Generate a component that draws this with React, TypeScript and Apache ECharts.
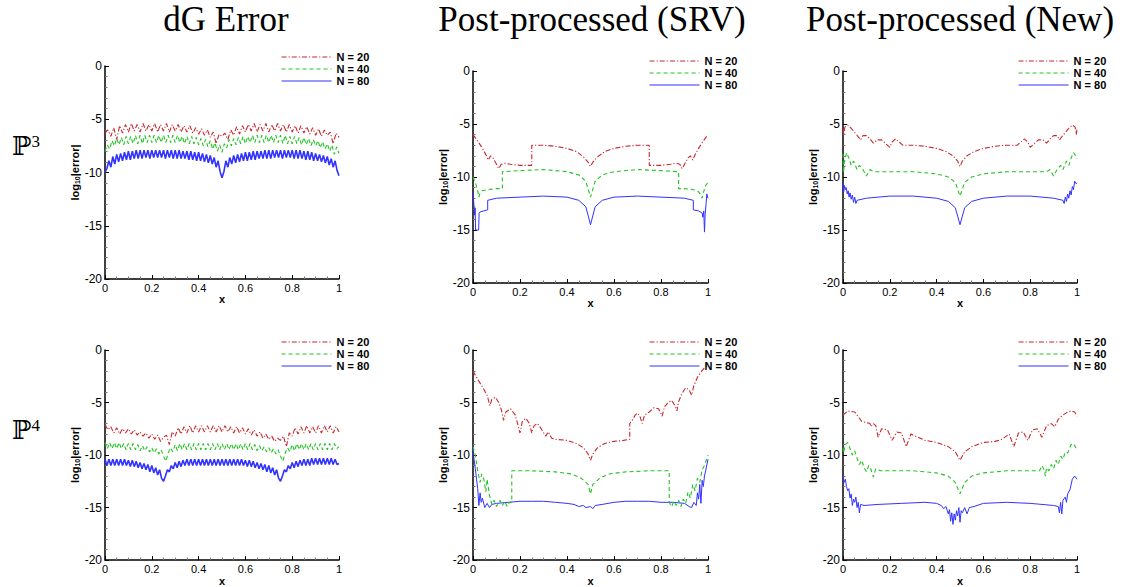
import React, { useEffect, useRef } from 'react';
import * as echarts from 'echarts';

// ---------- labels ----------
const panelTitles = ['dG Error', 'Post-processed (SRV)', 'Post-processed (New)'];
const rowLabels = ['3', '4'];
const seriesNames = ['N = 20', 'N = 40', 'N = 80'];

// ---------- dG error (uniformly sampled on [0,1]) ----------
const dgP3_N20 = [
  -6.3, -6.0, -6.6, -5.8, -6.9, -5.6, -6.3, -5.5, -6.2, -5.4,
  -6.1, -5.5, -6.2, -5.4, -6.1, -5.5, -6.1, -5.4, -6.2, -5.5,
  -6.1, -5.4, -6.2, -5.5, -6.1, -5.5, -6.2, -5.6, -6.2, -5.6,
  -6.3, -5.8, -6.4, -5.9, -6.5, -6.0, -6.7, -6.2, -7.3, -6.4,
  -6.6, -6.3, -6.9, -6.0, -6.5, -5.7, -6.4, -5.6, -6.2, -5.5,
  -6.1, -5.4, -6.2, -5.5, -6.1, -5.4, -6.2, -5.5, -6.1, -5.4,
  -6.1, -5.5, -6.2, -5.5, -6.2, -5.6, -6.3, -5.6, -6.3, -5.7,
  -6.4, -5.8, -6.5, -5.9, -6.6, -6.0, -6.5, -6.2, -7.3, -6.3,
  -6.7,
];
const dgP3_N40 = [
  -8.0, -7.4, -7.8, -7.0, -7.5, -6.8, -7.4, -6.7, -7.4, -6.6,
  -7.3, -6.6, -7.3, -6.5, -7.3, -6.5, -7.3, -6.5, -7.2, -6.5,
  -7.2, -6.5, -7.2, -6.5, -7.2, -6.5, -7.2, -6.5, -7.2, -6.5,
  -7.2, -6.5, -7.2, -6.6, -7.3, -6.6, -7.3, -6.6, -7.3, -6.7,
  -7.4, -6.8, -7.5, -6.9, -7.6, -7.0, -7.8, -7.2, -8.0, -7.4,
  -8.1, -7.3, -7.7, -6.9, -7.5, -6.8, -7.4, -6.7, -7.3, -6.6,
  -7.3, -6.6, -7.2, -6.5, -7.2, -6.5, -7.2, -6.5, -7.2, -6.5,
  -7.2, -6.5, -7.2, -6.5, -7.2, -6.5, -7.3, -6.5, -7.3, -6.6,
  -7.3, -6.6, -7.3, -6.7, -7.4, -6.7, -7.4, -6.8, -7.5, -6.9,
  -7.5, -7.0, -7.7, -7.1, -7.8, -7.3, -8.0, -7.4, -8.3, -7.6,
  -8.2,
];
const dgP3_N80 = [
  -10.0, -9.6, -8.9, -9.5, -8.5, -9.2, -8.3, -9.0, -8.2, -8.9,
  -8.1, -8.8, -8.0, -8.8, -8.0, -8.7, -7.9, -8.7, -7.9, -8.7,
  -7.9, -8.6, -7.9, -8.7, -7.9, -8.6, -7.9, -8.6, -7.9, -8.6,
  -7.9, -8.7, -7.9, -8.6, -7.9, -8.7, -7.9, -8.7, -7.9, -8.7,
  -8.0, -8.7, -8.0, -8.8, -8.0, -8.8, -8.1, -8.9, -8.1, -8.9,
  -8.2, -9.0, -8.3, -9.1, -8.4, -9.2, -8.6, -9.5, -8.9, -9.9,
  -10.5, -9.9, -8.9, -9.5, -8.6, -9.2, -8.4, -9.1, -8.3, -9.0,
  -8.2, -8.9, -8.1, -8.9, -8.1, -8.8, -8.0, -8.8, -8.0, -8.7,
  -8.0, -8.7, -7.9, -8.7, -7.9, -8.7, -7.9, -8.6, -7.9, -8.6,
  -7.9, -8.7, -7.9, -8.6, -7.9, -8.6, -7.9, -8.7, -7.9, -8.7,
  -7.9, -8.7, -8.0, -8.8, -8.0, -8.8, -8.1, -8.9, -8.2, -8.9,
  -8.3, -9.0, -8.4, -9.1, -8.5, -9.3, -8.7, -9.5, -8.9, -9.8,
  -10.3,
];
const dgP4_N20 = [
  -7.1, -7.6, -7.3, -7.9, -7.4, -8.0, -7.5, -7.9, -7.5, -8.0,
  -7.6, -8.1, -7.8, -8.2, -7.9, -8.4, -8.0, -8.5, -8.1, -8.7,
  -8.3, -8.1, -9.0, -7.8, -8.2, -7.4, -8.0, -7.3, -7.9, -7.2,
  -7.9, -7.2, -7.8, -7.2, -7.8, -7.2, -7.8, -7.2, -7.8, -7.2,
  -7.8, -7.2, -7.8, -7.3, -7.9, -7.3, -7.9, -7.4, -8.0, -7.5,
  -8.1, -7.6, -8.2, -7.8, -8.4, -8.0, -8.5, -8.2, -8.7, -8.4,
  -8.6, -8.2, -9.2, -7.9, -8.2, -7.4, -8.0, -7.3, -7.9, -7.2,
  -7.9, -7.3, -7.9, -7.2, -7.9, -7.2, -7.8, -7.2, -7.9, -7.3,
  -7.8,
];
const dgP4_N40 = [
  -8.8, -9.4, -8.8, -9.4, -8.8, -9.4, -8.8, -9.4, -8.9, -9.5,
  -8.9, -9.5, -8.9, -9.5, -9.0, -9.6, -9.1, -9.6, -9.2, -9.7,
  -9.3, -9.8, -9.4, -9.9, -9.5, -10.1, -10.6, -9.8, -9.3, -9.7,
  -9.0, -9.6, -8.9, -9.5, -8.9, -9.5, -8.9, -9.5, -8.9, -9.5,
  -8.9, -9.5, -8.9, -9.5, -8.9, -9.5, -8.9, -9.5, -8.9, -9.5,
  -8.9, -9.5, -8.9, -9.5, -8.9, -9.5, -8.9, -9.5, -8.9, -9.5,
  -8.9, -9.5, -8.9, -9.5, -9.0, -9.6, -9.1, -9.6, -9.2, -9.7,
  -9.3, -9.8, -9.4, -9.9, -9.5, -10.1, -10.6, -9.8, -9.3, -9.7,
  -9.0, -9.6, -8.9, -9.5, -8.9, -9.5, -8.9, -9.5, -8.9, -9.5,
  -8.9, -9.5, -8.9, -9.5, -8.9, -9.5, -8.9, -9.5, -8.9, -9.4,
  -9.2,
];
const dgP4_N80 = [
  -10.4, -11.0, -10.4, -11.0, -10.4, -11.0, -10.4, -11.0, -10.4, -11.0,
  -10.4, -11.0, -10.5, -11.1, -10.5, -11.1, -10.6, -11.2, -10.7, -11.3,
  -10.8, -11.4, -10.9, -11.6, -11.0, -11.7, -11.2, -11.9, -11.4, -12.2,
  -12.5, -12.0, -11.4, -11.6, -11.0, -11.3, -10.7, -11.2, -10.6, -11.1,
  -10.5, -11.0, -10.4, -11.0, -10.4, -11.0, -10.4, -11.0, -10.4, -11.0,
  -10.4, -11.0, -10.4, -11.0, -10.4, -11.0, -10.4, -11.0, -10.4, -11.0,
  -10.4, -11.0, -10.4, -11.0, -10.4, -11.0, -10.4, -11.0, -10.4, -11.0,
  -10.4, -11.0, -10.5, -11.1, -10.5, -11.1, -10.6, -11.2, -10.7, -11.3,
  -10.8, -11.4, -10.9, -11.6, -11.0, -11.7, -11.2, -11.9, -11.4, -12.2,
  -12.5, -12.0, -11.4, -11.6, -11.0, -11.3, -10.7, -11.2, -10.6, -11.1,
  -10.5, -11.0, -10.4, -11.0, -10.4, -11.0, -10.3, -10.9, -10.3, -10.9,
  -10.3, -10.9, -10.3, -10.9, -10.3, -10.9, -10.3, -10.9, -10.4, -10.9,
  -10.8,
];

// ---------- post-processed (x, log10 error) ----------
const srvP3_N20 = [
  [0, -6.0], [0.02, -6.6], [0.04, -7.3], [0.055, -7.9], [0.065, -8.4], [0.075, -8.0], [0.085, -8.2],
  [0.1, -8.8], [0.11, -9.2], [0.12, -8.8], [0.135, -8.7], [0.16, -8.8], [0.2, -8.9], [0.25, -8.9],
  [0.25, -7.0], [0.3, -7.0], [0.35, -7.1], [0.4, -7.3], [0.44, -7.6], [0.47, -8.1], [0.49, -8.6],
  [0.5, -9.0], [0.51, -8.6], [0.53, -8.1], [0.56, -7.6], [0.6, -7.3], [0.65, -7.1], [0.7, -7.0],
  [0.75, -7.0], [0.75, -8.9], [0.8, -8.9], [0.84, -8.8], [0.865, -8.7], [0.88, -8.8], [0.89, -9.2],
  [0.9, -8.8], [0.915, -8.2], [0.925, -8.0], [0.935, -8.4], [0.945, -7.9], [0.96, -7.3], [0.98, -6.6],
  [1, -6.0],
];
const srvP3_N40 = [
  [0, -10.0], [0.01, -10.5], [0.02, -11.3], [0.025, -11.9], [0.03, -11.5], [0.04, -11.3], [0.06, -11.2],
  [0.1, -11.1], [0.125, -11.1], [0.125, -9.5], [0.2, -9.4], [0.3, -9.3], [0.4, -9.5], [0.45, -9.8],
  [0.48, -10.4], [0.5, -11.9], [0.52, -10.4], [0.55, -9.8], [0.6, -9.5], [0.7, -9.3], [0.8, -9.4],
  [0.875, -9.5], [0.875, -11.1], [0.9, -11.1], [0.94, -11.2], [0.96, -11.4], [0.97, -11.7],
  [0.975, -12.0], [0.98, -11.5], [0.99, -10.8], [1, -10.5],
];
const srvP3_N80 = [
  [0, -11.5], [0.004, -12.6], [0.007, -13.6], [0.009, -12.9], [0.011, -15.0], [0.024, -15.0],
  [0.026, -13.4], [0.03, -13.3], [0.045, -13.2], [0.0625, -13.1], [0.0625, -12.2], [0.1, -12.0],
  [0.2, -11.9], [0.3, -11.8], [0.4, -11.9], [0.45, -12.2], [0.48, -12.8], [0.5, -14.5], [0.52, -12.8],
  [0.55, -12.2], [0.6, -11.9], [0.7, -11.8], [0.8, -11.9], [0.9, -12.0], [0.9375, -12.2],
  [0.9375, -13.1], [0.96, -13.2], [0.975, -13.4], [0.978, -13.8], [0.982, -13.2], [0.985, -15.2],
  [0.988, -13.5], [0.992, -12.5], [0.995, -11.6], [1, -12.0],
];
const newP3_N20 = [
  [0, -5.4], [0.003, -6.0], [0.008, -5.3], [0.02, -5.1], [0.035, -5.4], [0.05, -5.8], [0.065, -6.2],
  [0.075, -6.5], [0.085, -6.1], [0.1, -6.1], [0.115, -6.4], [0.13, -6.8], [0.145, -6.5], [0.165, -6.5],
  [0.185, -6.9], [0.2, -7.2], [0.21, -6.7], [0.225, -6.4], [0.24, -6.7], [0.255, -7.0], [0.3, -7.0],
  [0.35, -7.1], [0.4, -7.3], [0.44, -7.6], [0.47, -8.0], [0.49, -8.5], [0.5, -9.0], [0.51, -8.5],
  [0.53, -8.0], [0.56, -7.6], [0.6, -7.3], [0.65, -7.1], [0.7, -7.0], [0.745, -7.0], [0.76, -6.7],
  [0.775, -6.4], [0.79, -6.7], [0.8, -7.2], [0.815, -6.9], [0.835, -6.5], [0.855, -6.5], [0.87, -6.8],
  [0.885, -6.4], [0.9, -6.1], [0.915, -6.1], [0.925, -6.5], [0.935, -6.2], [0.95, -5.8], [0.965, -5.4],
  [0.98, -5.1], [0.992, -5.3], [0.997, -6.0], [1, -5.5],
];
const newP3_N40 = [
  [0, -7.8], [0.002, -9.6], [0.006, -8.6], [0.015, -7.7], [0.025, -8.2], [0.035, -8.9], [0.045, -8.5],
  [0.06, -9.3], [0.07, -8.9], [0.085, -9.3], [0.1, -9.9], [0.115, -9.3], [0.13, -9.5], [0.2, -9.5],
  [0.3, -9.5], [0.4, -9.7], [0.45, -10.0], [0.48, -10.5], [0.5, -11.8], [0.52, -10.5], [0.55, -10.0],
  [0.6, -9.7], [0.7, -9.5], [0.8, -9.5], [0.87, -9.5], [0.885, -9.3], [0.9, -9.9], [0.915, -9.3],
  [0.93, -8.9], [0.94, -9.3], [0.955, -8.5], [0.965, -8.9], [0.975, -8.2], [0.985, -7.7], [0.995, -8.0],
  [1, -8.3],
];
const newP3_N80 = [
  [0, -10.5], [0.003, -11.4], [0.006, -10.8], [0.01, -11.2], [0.014, -11.0], [0.018, -11.6],
  [0.022, -11.3], [0.026, -11.9], [0.03, -11.5], [0.035, -12.1], [0.04, -11.7], [0.045, -12.4],
  [0.05, -11.9], [0.055, -12.5], [0.06, -12.2], [0.1, -12.0], [0.2, -11.8], [0.3, -11.8], [0.4, -12.0],
  [0.45, -12.3], [0.48, -12.9], [0.5, -14.5], [0.52, -12.9], [0.55, -12.3], [0.6, -12.0], [0.7, -11.8],
  [0.8, -11.8], [0.9, -12.0], [0.94, -12.2], [0.945, -12.5], [0.95, -11.9], [0.955, -12.3], [0.96, -11.6],
  [0.965, -12.0], [0.97, -11.3], [0.975, -11.7], [0.98, -10.9], [0.985, -11.2], [0.99, -10.4],
  [0.995, -10.6], [1, -10.6],
];
const srvP4_N20 = [
  [0, -2.0], [0.02, -2.8], [0.04, -3.5], [0.06, -4.3], [0.072, -5.3], [0.08, -4.7], [0.095, -4.5],
  [0.11, -5.0], [0.122, -5.8], [0.13, -6.7], [0.14, -5.9], [0.16, -5.6], [0.18, -6.2], [0.2, -7.9],
  [0.21, -6.8], [0.225, -6.5], [0.24, -7.0], [0.25, -7.9], [0.26, -7.2], [0.275, -7.0], [0.29, -7.5],
  [0.31, -8.2], [0.32, -7.8], [0.335, -8.4], [0.35, -8.5], [0.4, -8.6], [0.44, -8.9], [0.47, -9.3],
  [0.49, -9.9], [0.5, -10.5], [0.51, -9.9], [0.53, -9.3], [0.56, -8.9], [0.6, -8.7], [0.64, -8.6],
  [0.667, -8.5], [0.667, -7.0], [0.68, -6.6], [0.69, -6.2], [0.7, -6.0], [0.71, -6.3], [0.72, -7.0],
  [0.73, -6.2], [0.75, -5.9], [0.77, -5.5], [0.79, -5.6], [0.805, -6.3], [0.815, -5.4], [0.83, -5.0],
  [0.845, -4.8], [0.86, -5.3], [0.868, -5.8], [0.875, -4.9], [0.89, -4.1], [0.905, -3.6], [0.92, -3.8],
  [0.93, -4.3], [0.94, -3.4], [0.955, -2.6], [0.97, -2.1], [0.985, -1.7], [1, -1.4],
];
const srvP4_N40 = [
  [0, -9.2], [0.01, -10.0], [0.02, -11.5], [0.03, -12.6], [0.037, -11.8], [0.045, -12.2], [0.055, -13.5],
  [0.06, -12.3], [0.07, -13.8], [0.08, -14.7], [0.09, -14.3], [0.1, -14.9], [0.115, -14.3], [0.125, -14.8],
  [0.135, -14.4], [0.145, -14.9], [0.155, -14.5], [0.165, -14.5], [0.165, -11.5], [0.25, -11.5],
  [0.35, -11.6], [0.42, -11.8], [0.46, -12.2], [0.49, -12.8], [0.5, -13.7], [0.51, -12.8], [0.54, -12.2],
  [0.58, -11.8], [0.65, -11.6], [0.75, -11.5], [0.835, -11.5], [0.835, -14.5], [0.845, -14.9],
  [0.855, -14.4], [0.865, -14.8], [0.875, -14.3], [0.885, -14.9], [0.895, -14.2], [0.905, -14.6],
  [0.915, -13.5], [0.925, -14.1], [0.935, -12.8], [0.945, -13.4], [0.955, -12.2], [0.965, -12.6],
  [0.975, -11.4], [0.985, -11.0], [1, -10.0],
];
const srvP4_N80 = [
  [0, -9.5], [0.005, -10.5], [0.01, -11.3], [0.015, -12.3], [0.02, -13.2], [0.025, -14.8], [0.03, -13.6],
  [0.035, -14.5], [0.04, -14.1], [0.05, -15.0], [0.06, -14.6], [0.07, -15.0], [0.08, -14.7], [0.1, -14.6],
  [0.15, -14.5], [0.2, -14.4], [0.25, -14.4], [0.3, -14.4], [0.35, -14.5], [0.4, -14.6], [0.43, -14.7],
  [0.45, -14.9], [0.47, -14.8], [0.48, -15.0], [0.5, -14.9], [0.51, -15.1], [0.52, -14.8], [0.55, -14.7],
  [0.6, -14.5], [0.65, -14.4], [0.7, -14.4], [0.75, -14.4], [0.8, -14.5], [0.85, -14.5], [0.9, -14.6],
  [0.92, -14.9], [0.93, -15.0], [0.94, -14.5], [0.95, -14.8], [0.955, -13.6], [0.96, -14.2], [0.965, -12.8],
  [0.97, -14.6], [0.975, -12.4], [0.98, -13.0], [0.985, -12.0], [0.99, -11.5], [1, -10.4],
];
const newP4_N20 = [
  [0, -6.2], [0.02, -5.8], [0.05, -5.9], [0.07, -6.5], [0.08, -6.8], [0.1, -6.9], [0.115, -7.0],
  [0.12, -7.3], [0.13, -7.0], [0.14, -7.2], [0.15, -8.3], [0.165, -7.5], [0.19, -7.6], [0.21, -8.6],
  [0.23, -7.8], [0.25, -7.9], [0.27, -9.2], [0.29, -8.0], [0.32, -8.3], [0.35, -8.6], [0.4, -8.8],
  [0.45, -9.2], [0.48, -9.7], [0.5, -10.5], [0.52, -9.7], [0.55, -9.2], [0.6, -8.8], [0.65, -8.7],
  [0.68, -8.5], [0.71, -8.0], [0.73, -9.2], [0.75, -7.9], [0.77, -7.8], [0.79, -8.6], [0.81, -7.6],
  [0.83, -7.5], [0.85, -8.3], [0.87, -7.2], [0.89, -7.0], [0.905, -7.3], [0.92, -6.6], [0.94, -6.2],
  [0.96, -5.9], [0.975, -5.8], [0.99, -5.9], [1, -6.3],
];
const newP4_N40 = [
  [0, -9.3], [0.003, -9.8], [0.01, -9.0], [0.02, -8.8], [0.03, -9.4], [0.04, -10.0], [0.05, -9.6],
  [0.06, -10.3], [0.07, -10.9], [0.08, -10.5], [0.09, -11.2], [0.1, -11.6], [0.11, -11.0], [0.12, -11.4],
  [0.13, -12.1], [0.14, -11.3], [0.16, -11.5], [0.2, -11.5], [0.3, -11.5], [0.4, -11.7], [0.45, -12.0],
  [0.48, -12.6], [0.5, -13.7], [0.52, -12.6], [0.55, -12.0], [0.6, -11.7], [0.7, -11.5], [0.8, -11.5],
  [0.84, -11.5], [0.85, -11.0], [0.86, -11.4], [0.865, -12.0], [0.87, -11.2], [0.88, -11.5], [0.89, -10.9],
  [0.9, -11.3], [0.91, -10.5], [0.92, -10.9], [0.93, -10.1], [0.94, -10.4], [0.95, -9.7], [0.96, -9.8],
  [0.975, -9.0], [0.985, -8.9], [0.995, -9.3], [1, -9.3],
];
const newP4_N80 = [
  [0, -12.0], [0.005, -12.6], [0.01, -12.3], [0.015, -13.0], [0.02, -13.4], [0.025, -13.2], [0.03, -14.1],
  [0.035, -13.7], [0.04, -14.8], [0.045, -14.2], [0.05, -14.5], [0.055, -14.0], [0.06, -15.0], [0.065, -14.5],
  [0.07, -15.5], [0.075, -14.7], [0.09, -14.8], [0.15, -14.7], [0.25, -14.6], [0.35, -14.5], [0.4, -14.6],
  [0.42, -14.8], [0.43, -15.1], [0.44, -14.9], [0.45, -15.6], [0.455, -15.2], [0.46, -16.3], [0.465, -15.5],
  [0.47, -16.6], [0.475, -15.6], [0.48, -16.2], [0.485, -15.3], [0.49, -15.8], [0.495, -15.0], [0.5, -16.4],
  [0.505, -15.3], [0.51, -15.5], [0.52, -15.0], [0.53, -15.6], [0.54, -15.0], [0.56, -14.9], [0.6, -14.6],
  [0.7, -14.5], [0.8, -14.6], [0.9, -14.8], [0.92, -14.9], [0.925, -15.5], [0.93, -14.5], [0.935, -15.6],
  [0.94, -14.3], [0.95, -14.0], [0.955, -14.5], [0.96, -13.7], [0.97, -13.3], [0.98, -12.3], [0.99, -12.0],
  [1, -12.3],
];

// uniformly sampled series -> (x, y) pairs on [0, 1]
const onUnitInterval = (ys: number[]) => ys.map((y, i) => [i / (ys.length - 1), y]);

const panelData = [
  [onUnitInterval(dgP3_N20), onUnitInterval(dgP3_N40), onUnitInterval(dgP3_N80)],
  [srvP3_N20, srvP3_N40, srvP3_N80],
  [newP3_N20, newP3_N40, newP3_N80],
  [onUnitInterval(dgP4_N20), onUnitInterval(dgP4_N40), onUnitInterval(dgP4_N80)],
  [srvP4_N20, srvP4_N40, srvP4_N80],
  [newP4_N20, newP4_N40, newP4_N80],
];
const denseBlue = [true, false, false, true, false, false];

// ---------- layout / style ----------
const grids = [
  { left: 105, top: 66, width: 234, height: 213 },
  { left: 473, top: 71, width: 235, height: 212 },
  { left: 843, top: 71, width: 234, height: 212 },
  { left: 105, top: 350, width: 234, height: 214 },
  { left: 473, top: 350, width: 235, height: 214 },
  { left: 843, top: 350, width: 234, height: 214 },
];
const legendPos = [
  { left: 276, top: 46 },
  { left: 644, top: 50 },
  { left: 1013, top: 50 },
  { left: 276, top: 331 },
  { left: 644, top: 331 },
  { left: 1013, top: 331 },
];
const lineStyles = [
  { color: '#c8282d', width: 1.1, type: [5, 2, 1.2, 2] },
  { color: '#22c322', width: 1.1, type: [4, 3] },
  { color: '#3232ff', width: 1, type: 'solid' },
];
const SANS = "'Liberation Sans', Arial, sans-serif";
const SERIF = "'Liberation Serif', 'Times New Roman', serif";

export default function App() {
  const ref = useRef<HTMLDivElement>(null);
  useEffect(() => {
    if (!ref.current) return;
    const chart = echarts.init(ref.current, undefined, { renderer: 'svg' });

    const xAxis = grids.map((_, i) => ({
      type: 'value',
      gridIndex: i,
      min: 0,
      max: 1,
      interval: 0.2,
      name: 'x',
      nameLocation: 'middle',
      nameGap: 10,
      nameTextStyle: { fontSize: 11, fontWeight: 'bold', fontFamily: SANS, color: '#000' },
      axisLine: { onZero: false, lineStyle: { color: '#000', width: 1.5 } },
      axisTick: { inside: true, length: 4, lineStyle: { color: '#000', width: 1 } },
      minorTick: { show: true, splitNumber: 4, length: 2.5, lineStyle: { color: '#777', width: 1 } },
      axisLabel: { fontSize: 11, color: '#000', margin: 3, fontFamily: SANS },
      splitLine: { show: false },
    }));
    const yAxis = grids.map((_, i) => ({
      type: 'value',
      gridIndex: i,
      min: -20,
      max: 0,
      interval: 5,
      name: '{a|log}{b|10}{a||error|}',
      nameLocation: 'middle',
      nameRotate: 90,
      nameGap: 22,
      nameTextStyle: {
        rich: {
          a: { fontSize: 11, fontWeight: 'bold', fontFamily: SANS, color: '#000' },
          b: { fontSize: 7, fontWeight: 'bold', fontFamily: SANS, color: '#000', verticalAlign: 'bottom' },
        },
      },
      axisLine: { onZero: false, lineStyle: { color: '#000', width: 1.5 } },
      axisTick: { inside: true, length: 4, lineStyle: { color: '#000', width: 1 } },
      minorTick: { show: true, splitNumber: 5, length: 2.5, lineStyle: { color: '#777', width: 1 } },
      axisLabel: { fontSize: 12, color: '#000', margin: 3, fontFamily: SANS },
      splitLine: { show: false },
    }));

    const series: any[] = [];
    panelData.forEach((panel, p) => {
      panel.forEach((data, s) => {
        const ls = { ...lineStyles[s] };
        if (s === 2 && denseBlue[p]) ls.width = 1.6;
        series.push({
          type: 'line',
          name: seriesNames[s],
          xAxisIndex: p,
          yAxisIndex: p,
          data,
          symbol: 'none',
          showSymbol: false,
          lineStyle: ls,
          itemStyle: { color: lineStyles[s].color },
          z: 3 - s,
        });
      });
    });

    const legend = legendPos.map((pos) => ({
      ...pos,
      orient: 'vertical',
      data: seriesNames,
      itemWidth: 50,
      itemHeight: 12,
      itemGap: 0,
      selectedMode: false,
      itemStyle: { opacity: 0 },
      lineStyle: { width: 1.1 },
      textStyle: { fontSize: 11, fontWeight: 'bold', fontFamily: SANS, color: '#000', lineHeight: 12 },
    }));

    const titleCenters = [226, 592, 960];
    const graphic: any[] = titleCenters.map((x, i) => ({
      type: 'text',
      x,
      y: 19,
      style: {
        text: panelTitles[i],
        fontFamily: SERIF,
        fontSize: 35,
        fill: '#000',
        textAlign: 'center',
        textVerticalAlign: 'middle',
      },
    }));
    [146, 430].forEach((y, i) => {
      graphic.push({
        type: 'text',
        x: 12,
        y,
        style: {
          text: `{p|ℙ}{s|${rowLabels[i]}}`,
          textVerticalAlign: 'middle',
          rich: {
            p: { fontSize: 26, fontFamily: "'DejaVu Serif', 'DejaVu Sans', serif", fill: '#000' },
            s: { fontSize: 17, fontFamily: SERIF, fill: '#000', verticalAlign: 'top' },
          },
        },
      });
    });

    chart.setOption({
      animation: false,
      backgroundColor: '#fff',
      grid: grids,
      xAxis,
      yAxis,
      legend,
      series,
      graphic,
    });
    return () => chart.dispose();
  }, []);

  return (
    <div
      ref={ref}
      style={{ position: 'fixed', left: 0, top: 0, width: 1130, height: 587, background: '#fff' }}
    />
  );
}
